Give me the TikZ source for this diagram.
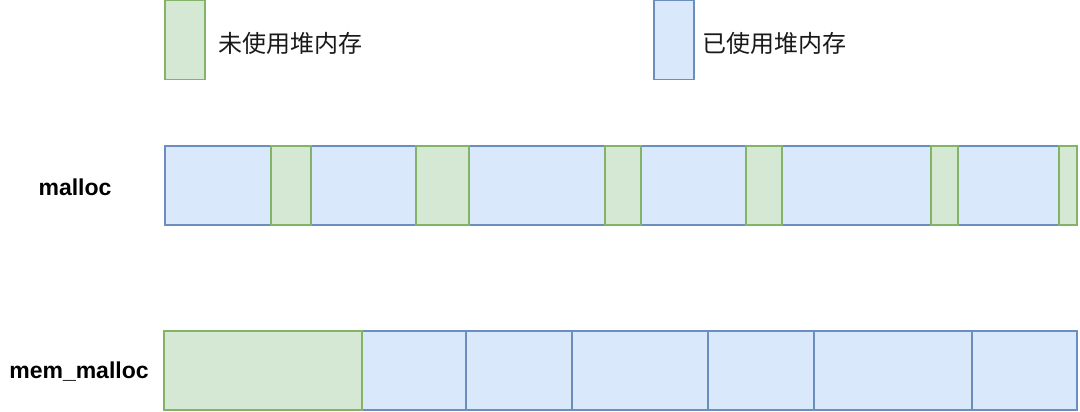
\documentclass[tikz,border=0pt]{standalone}
\usepackage{fontspec}
\newfontfamily\cjk{Noto Sans CJK SC}
\newfontfamily\lab{Liberation Sans}
\definecolor{gfill}{HTML}{D5E8D4}
\definecolor{gdraw}{HTML}{82B366}
\definecolor{bfill}{HTML}{DAE8FC}
\definecolor{bdraw}{HTML}{6C8EBF}
\begin{document}
\begin{tikzpicture}[x=1pt,y=-1pt,
  blk/.style={draw, line width=1.2pt, inner sep=0pt, outer sep=0pt, anchor=north west, minimum height=79pt},
  used/.style={blk, fill=bfill, draw=bdraw},
  free/.style={blk, fill=gfill, draw=gdraw},
  legtext/.style={anchor=west, inner sep=0pt, font=\cjk\fontsize{24}{28}\selectfont, text=black!90},
  rowlab/.style={inner sep=0pt, font=\lab\bfseries\fontsize{23}{27}\selectfont}]
\useasboundingbox (0,0) rectangle (1080,412);
% legend
\node[free, minimum width=40pt] (lg) at (165,0.6) {};
\node[legtext] (lgt) at (218,43) {未使用堆内存};
\node[used, minimum width=40pt] (lb) at (654,0.6) {};
\node[legtext] (lbt) at (702,43) {已使用堆内存};
% malloc row
\node[rowlab] (ml) at (75,187) {malloc};
\node[used, minimum width=106pt] (a1) at (165,146) {};
\node[used, minimum width=105pt] (a3) at (311,146) {};
\node[used, minimum width=136pt] (a5) at (469,146) {};
\node[used, minimum width=105pt] (a7) at (641,146) {};
\node[used, minimum width=149pt] (a9) at (782,146) {};
\node[used, minimum width=101pt] (a11) at (958,146) {};
\node[free, minimum width=40pt] (a2) at (271,146) {};
\node[free, minimum width=53pt] (a4) at (416,146) {};
\node[free, minimum width=36pt] (a6) at (605,146) {};
\node[free, minimum width=36pt] (a8) at (746,146) {};
\node[free, minimum width=27pt] (a10) at (931,146) {};
\node[free, minimum width=18pt] (a12) at (1059,146) {};
% mem_malloc row
\node[rowlab] (mm) at (79,372) {mem\_malloc};
\node[used, minimum width=104pt] (b2) at (362,331) {};
\node[used, minimum width=106pt] (b3) at (466,331) {};
\node[used, minimum width=136pt] (b4) at (572,331) {};
\node[used, minimum width=106pt] (b5) at (708,331) {};
\node[used, minimum width=158pt] (b6) at (814,331) {};
\node[used, minimum width=105pt] (b7) at (972,331) {};
\node[free, minimum width=198pt] (b1) at (164,331) {};
\end{tikzpicture}
\end{document}
